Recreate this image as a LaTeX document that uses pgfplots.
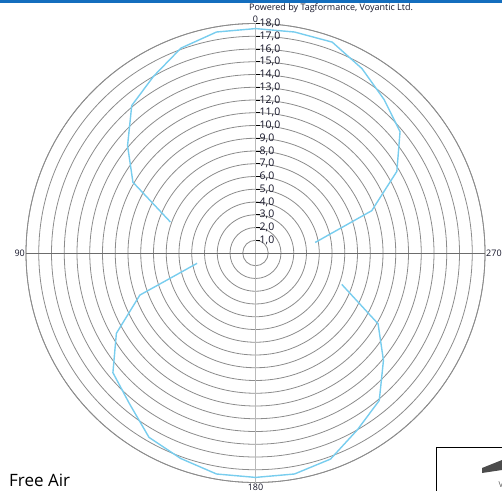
\documentclass[border=0pt]{standalone}
\usepackage{pgfplots}
\pgfplotsset{compat=1.18}
\usepackage{pgfplotstable}
\usepgfplotslibrary{polar}
\usepackage{fontspec}
\setmainfont{Open Sans}
\definecolor{curve}{RGB}{120,205,238}
\definecolor{gridc}{RGB}{140,140,140}
\definecolor{topbar}{RGB}{20,110,190}
\definecolor{lbl}{RGB}{20,20,40}

% chart angle (0 at top, counter-clockwise), radius
\pgfplotstableread{
theta r
-80 4.75
-70 9.7
-60 12.8
-50 14.8
-40 15.7
-30 16.7
-20 17.6
-10 17.6
0 17.6
10 17.6
20 17.1
30 16.0
40 15.1
50 13.1
60 11.1
70 7.1
}\upperdata
\pgfplotstableread{
theta r
100 4.65
110 9.65
120 12.6
130 14.6
140 15.4
150 16.7
160 17.15
170 17.6
180 17.6
190 17.6
200 17.2
210 16.0
220 15.1
230 13.1
240 11.1
250 7.2
}\lowerdata

\begin{document}
\begin{tikzpicture}[x=1pt,y=1pt]
\useasboundingbox (0,0) rectangle (502,490);
\clip (0,0) rectangle (502,490);
\begin{polaraxis}[
  at={(255.5pt,237pt)}, anchor=center,
  scale only axis, width=459pt, height=459pt,
  xmin=0, xmax=360, ymin=0, ymax=18,
  xtick={0,90,180,270},
  xticklabels={270,0,90,180},
  ytick={1,...,18},
  yticklabels={},
  xmajorgrids, ymajorgrids,
  major tick length=0pt,
  grid style={gridc, line width=0.8pt},
  axis line style={gridc, line width=0.8pt},
  x tick label style={font=\fontsize{9}{10}\selectfont, text=lbl, inner sep=1pt},
  /pgf/number format/assume math mode=true,
  clip=false,
]
\draw[gray!55, line width=1.8pt] (axis cs:90,18) -- (axis cs:270,18);
\draw[gray!85!black, line width=0.9pt] (axis cs:0,18) -- (axis cs:180,18);
\pgfplotsinvokeforeach{1,...,18}{
  \draw[black, line width=0.7pt] (axis cs:90,#1) -- ++(4pt,0);
  \node[anchor=west, inner sep=0pt, font=\fontsize{10.5}{11}\selectfont, text=lbl] at ([xshift=4pt]axis cs:90,#1) {#1,0};
}
\addplot[curve, line width=1.4pt, no markers] table[x expr=\thisrow{theta}+90, y=r] {\upperdata};
\addplot[curve, line width=1.4pt, no markers] table[x expr=\thisrow{theta}+90, y=r] {\lowerdata};
\end{polaraxis}
\fill[topbar] (0,487) rectangle (502,490);
\node[anchor=south west, inner sep=0pt, font=\fontsize{9}{10}\selectfont, text=lbl] at (249,477.5) {Powered by Tagformance, Voyantic Ltd.};
\node[anchor=base west, inner sep=0pt, font=\fontsize{17}{20}\selectfont] at (9,4) {Free Air};
\draw[black, line width=0.7pt] (436,-5) rectangle (510,43);
\fill[gray!60!black] (482,22) -- (502,30) -- (502,20) -- (482,17) -- cycle;
\node[anchor=base, inner sep=0pt, font=\fontsize{8}{9}\selectfont, text=gray!70!black] at (501,3) {V};
\end{tikzpicture}
\end{document}
